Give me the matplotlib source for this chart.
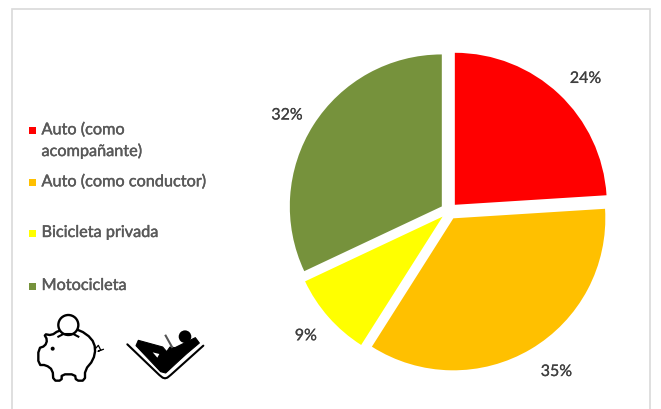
import numpy as np
import matplotlib
matplotlib.use('Agg')
import matplotlib.pyplot as plt
import matplotlib.patheffects as pe
from matplotlib.patches import Circle, Polygon, Rectangle

# porcentaje de viajes por modo de transporte
categorias = ['Auto (como\nacompañante)', 'Auto (como conductor)', 'Bicicleta privada', 'Motocicleta']
valores = [24, 35, 9, 32]
colores = ['#FF0000', '#FFC000', '#FFFF00', '#76923C']

W, H = 661, 409
CX, CY, R = 449, 211, 152

plt.rcParams['font.family'] = ['Lato', 'DejaVu Sans']


def suavizar(puntos, veces=2):
    # recorte de esquinas para redondear los contornos de los iconos
    p = np.array(puntos, dtype=float)
    for _ in range(veces):
        q = np.roll(p, -1, axis=0)
        p = np.column_stack([0.75 * p + 0.25 * q, 0.25 * p + 0.75 * q]).reshape(-1, 2)
    return p


def px(puntos, x0, y0):
    return [(x / 3 + x0, y / 3 + y0) for x, y in puntos]


def cerdo(puntos):
    return px(puntos, 30, 310)


def silla(puntos):
    return px(puntos, 120, 325)


def grueso(color, ancho=0.35):
    return [pe.withStroke(linewidth=ancho, foreground=color)]


fig = plt.figure(figsize=(W / 100, H / 100), dpi=100, facecolor='white')

# torta, un radio equivale a R pixeles
ax = fig.add_axes([0, 0, 1, 1])
_, _, etiquetas = ax.pie(valores, colors=colores, startangle=90, counterclock=False, explode=[0.056] * 4,
                         autopct='%.0f%%', pctdistance=1.19, radius=1,
                         textprops={'fontsize': 11.5, 'color': '#404040'})
# ajuste fino de cada porcentaje, en pixeles
ajustes = [(7, -6), (11, 2), (-1, 0), (-2, -6)]
for t, (dx, dy) in zip(etiquetas, ajustes):
    x, y = t.get_position()
    t.set_position((x + dx / R, y + dy / R))
    t.set_path_effects(grueso('#404040', 0.15))
ax.set_xlim(-CX / R, (W - CX) / R)
ax.set_ylim(-(H - CY) / R, CY / R)
ax.axis('off')

# capa en pixeles para marco, leyenda e iconos
ov = fig.add_axes([0, 0, 1, 1])
ov.set_xlim(0, W)
ov.set_ylim(H, 0)
ov.axis('off')
ov.patch.set_alpha(0)

ov.plot([11.5, 11.5, 650, 650], [H, 8.5, 8.5, H], color='#D9D9D9', lw=1.2, solid_joinstyle='miter')

legend_y = [130, 182, 233, 286]
for nombre, color, y in zip(categorias, colores, legend_y):
    ov.add_patch(Rectangle((29, y - 3.5), 7, 7, facecolor=color, edgecolor='none'))
    ov.text(41.5, y - 7, nombre, fontsize=11.7, color='#595959', va='top', ha='left',
            linespacing=1.55, path_effects=grueso('#595959', 0.3))

# alcancia
cuerpo = [(25, 115), (45, 108), (52, 90), (42, 72), (65, 76), (85, 62), (118, 56), (150, 60), (185, 85),
          (197, 115), (190, 150), (165, 180), (165, 212), (138, 212), (135, 193), (95, 193), (95, 212),
          (70, 212), (68, 180), (48, 165), (25, 165)]
ov.add_patch(Polygon(suavizar(cerdo(cuerpo), 1), closed=True, fill=False, edgecolor='black', lw=1.7, joinstyle='round'))
ov.add_patch(Circle(cerdo([(115, 45)])[0], 10, facecolor='white', edgecolor='black', lw=1.7, zorder=3))
ov.plot(*zip(*cerdo([(85, 80), (100, 72), (130, 72), (145, 80)])), color='black', lw=1.5, zorder=4)
ov.add_patch(Circle(cerdo([(68, 116)])[0], 2, facecolor='black', edgecolor='none'))
ov.plot(*zip(*cerdo([(197, 115), (205, 106), (212, 120), (204, 124), (220, 118)])), color='black', lw=0.9)

# persona leyendo en una silla reclinada
ov.plot(*zip(*silla([(22, 58), (118, 150), (128, 158), (135, 160), (142, 158), (152, 150), (250, 62)])),
        color='black', lw=1.5, solid_joinstyle='round', solid_capstyle='round')
figura = [(48, 62), (55, 46), (128, 66), (140, 80), (150, 66), (165, 68), (226, 38), (238, 54), (200, 86),
          (178, 106), (137, 144), (122, 140)]
ov.add_patch(Polygon(silla(figura), closed=True, facecolor='black', edgecolor='black', lw=0.8, joinstyle='round'))
ov.add_patch(Polygon(silla([(98, 82), (118, 87), (112, 98)]), closed=True, facecolor='white', edgecolor='none'))
ov.add_patch(Circle(silla([(195, 35)])[0], 6.3, facecolor='black', edgecolor='none'))
ov.plot(*zip(*silla([(137, 32), (156, 66)])), color='#555555', lw=1.5)

fig.savefig('out.png', dpi=100)
